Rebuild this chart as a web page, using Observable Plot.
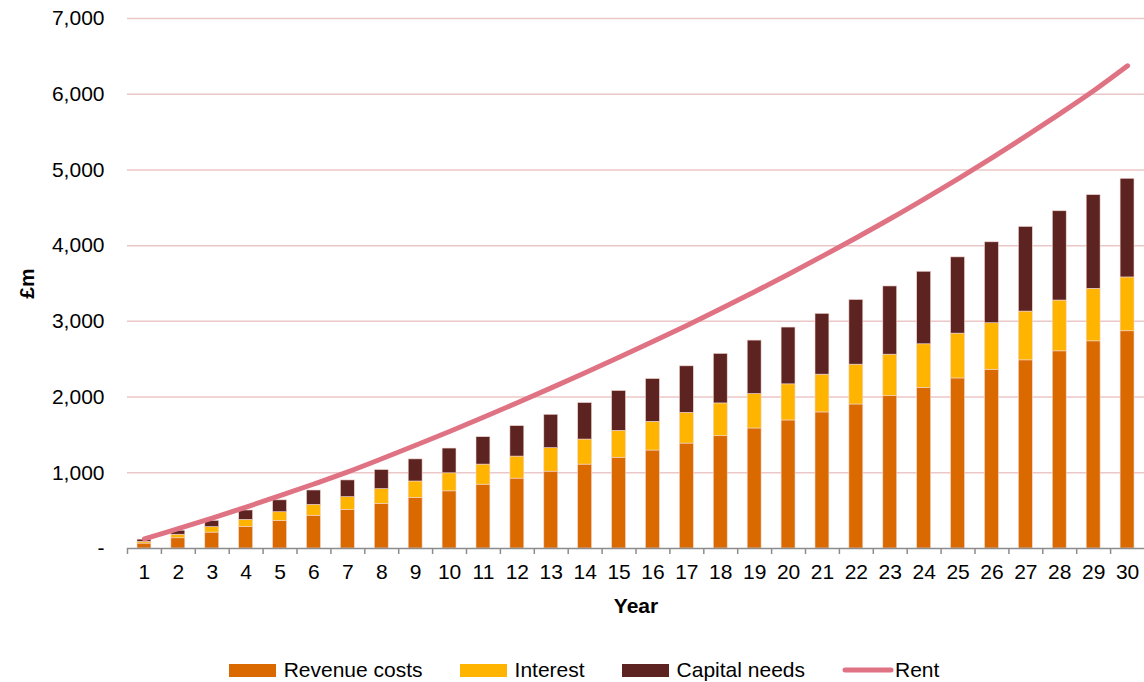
<!DOCTYPE html>
<html>
<head>
<meta charset="utf-8">
<script src="https://cdn.jsdelivr.net/npm/d3@7"></script>
<script src="https://cdn.jsdelivr.net/npm/@observablehq/plot@0.6"></script>
<style>
  html, body { margin: 0; padding: 0; background: #fff; }
  body { width: 1144px; height: 682px; overflow: hidden; font-family: "Liberation Sans", Arial, sans-serif; }
  #legend { display: flex; justify-content: center; align-items: center; height: 24px; margin-top: 33px; font-size: 21px; line-height: 24px; color: #000; padding-left: 24px; }
  .item { display: flex; align-items: center; margin-right: 37px; }
  .item:last-child { margin-right: 0; }
  .sw { width: 47px; height: 13px; margin-right: 8px; }
</style>
</head>
<body>
<div id="chart"></div>
<div id="legend"></div>
<script>
const years = [1,2,3,4,5,6,7,8,9,10,11,12,13,14,15,16,17,18,19,20,21,22,23,24,25,26,27,28,29,30];
const revenue = [65,135,210,285,362,433,510,590,669,755,843,923,1015,1108,1199,1294,1386,1483,1585,1691,1797,1902,2012,2122,2246,2361,2485,2604,2736,2869];
const interest = [23,47,72,93,117,143,168,194,216,238,265,291,310,331,355,379,406,433,455,477,499,526,548,575,592,614,644,671,694,711];
const capital = [29,53,83,124,157,190,221,252,292,327,362,402,441,482,526,565,614,654,706,750,803,854,901,958,1007,1069,1118,1179,1237,1303];
const rent = [127,262,402,547,697,852,1012,1185,1363,1546,1733,1925,2121,2321,2525,2733,2945,3165,3391,3623,3861,4105,4355,4615,4883,5160,5446,5741,6045,6375];
const seriesNames = ["Revenue costs", "Interest", "Capital needs"];
const seriesColors = ["#DA6A00", "#FFB400", "#5D2321"];
const rentName = "Rent";
const rentColor = "#E07383";
const yTicks = [0,1000,2000,3000,4000,5000,6000,7000];

const seriesValues = [revenue, interest, capital];
const rows = [];
seriesNames.forEach((s, i) => years.forEach((yr, j) => rows.push({year: yr, series: s, value: seriesValues[i][j]})));
const rentRows = years.map((yr, j) => ({year: yr, rent: rent[j]}));

const W = 1144, H = 625, mL = 127, mR = 0, mT = 18, mB = 77;
const step = (W - mL - mR) / years.length;
const fmt = d3.format(",");
const FS = 21;

const chart = Plot.plot({
  width: W, height: H,
  marginTop: mT, marginBottom: mB, marginLeft: mL, marginRight: mR,
  style: {fontFamily: "Liberation Sans, Arial, sans-serif", fontSize: FS + "px", color: "#000", background: "#fff", overflow: "visible"},
  x: {type: "band", domain: years, paddingInner: 0.59, paddingOuter: 0.295, round: false, label: null},
  y: {domain: [0, 7000], label: null},
  color: {domain: seriesNames, range: seriesColors},
  marks: [
    Plot.ruleY(yTicks.filter(d => d > 0), {stroke: "#ECC7C7", strokeWidth: 1.5}),
    Plot.barY(rows, {x: "year", y: "value", fill: "series", order: seriesNames, stroke: "#F2D6CF", strokeWidth: 0.6}),
    Plot.ruleY([0], {stroke: "#8C8C8C", strokeWidth: 1.5}),
    Plot.axisX({tickSize: 6, text: null, dx: -step / 2, stroke: "#8C8C8C", strokeWidth: 1.5, strokeOpacity: 1}),
    Plot.axisX({tickSize: 0, tickPadding: 16, fontSize: FS, fill: "#000"}),
    Plot.axisY({ticks: yTicks, tickSize: 0, tickPadding: 23, fontSize: FS, fill: "#000", tickFormat: d => d === 0 ? "-" : fmt(d)}),
    Plot.line(rentRows, {x: "year", y: "rent", stroke: rentColor, strokeWidth: 5, curve: "catmull-rom", strokeLinecap: "round"}),
    Plot.text(["£m"], {frameAnchor: "left", dx: -100, rotate: -90, textAnchor: "middle", fontWeight: "bold", fontSize: FS, fill: "#000"}),
    Plot.text(["Year"], {frameAnchor: "bottom", dy: 64, fontWeight: "bold", fontSize: FS, fill: "#000"})
  ]
});
document.getElementById("chart").appendChild(chart);

const legend = document.getElementById("legend");
seriesNames.forEach((s, i) => {
  const it = document.createElement("div");
  it.className = "item";
  it.innerHTML = `<div class="sw" style="background:${seriesColors[i]}"></div><span>${s}</span>`;
  legend.appendChild(it);
});
const rit = document.createElement("div");
rit.className = "item";
rit.innerHTML = `<svg width="52" height="12" style="margin-right:1px"><line x1="3" y1="6" x2="49" y2="6" stroke="${rentColor}" stroke-width="5" stroke-linecap="round"/></svg><span>${rentName}</span>`;
legend.appendChild(rit);
</script>
</body>
</html>
